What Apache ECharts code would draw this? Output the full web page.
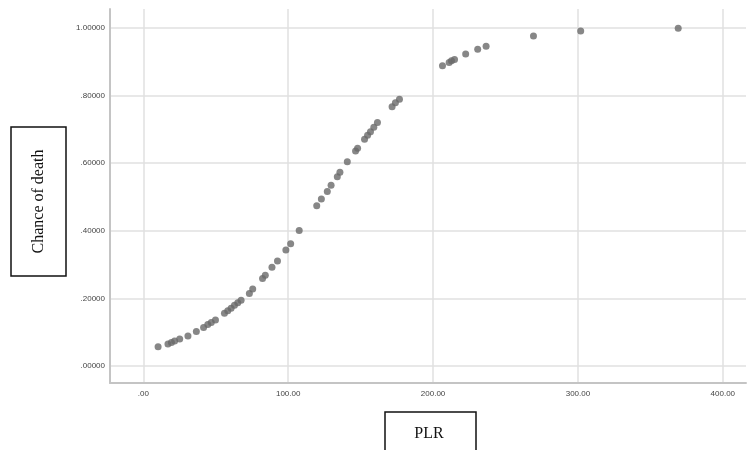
<!DOCTYPE html>
<html>
<head>
<meta charset="utf-8">
<script src="https://cdn.jsdelivr.net/npm/echarts@6/dist/echarts.min.js"></script>
<style>html,body{margin:0;padding:0;background:#fff}#c{width:749px;height:450px}</style>
</head>
<body>
<div id="c"></div>
<script>
var plrValues = [10.2,17.0,19.4,21.6,25.1,30.8,36.6,41.6,44.5,46.9,49.8,56.0,58.3,60.6,62.9,65.2,67.5,73.2,75.5,82.3,84.2,88.8,92.6,98.4,101.7,107.6,119.7,122.9,127.0,129.6,133.9,135.7,140.8,146.5,147.9,152.7,154.8,156.8,159.1,161.6,171.7,174.0,176.8,206.5,211.1,212.7,214.8,222.5,230.8,236.6,269.3,301.9,369.2];
var deathChance = [0.057,0.065,0.070,0.074,0.080,0.089,0.102,0.114,0.123,0.129,0.136,0.156,0.164,0.171,0.180,0.187,0.195,0.215,0.228,0.259,0.269,0.292,0.311,0.343,0.362,0.401,0.474,0.494,0.516,0.535,0.560,0.573,0.604,0.636,0.644,0.671,0.683,0.693,0.706,0.720,0.767,0.779,0.789,0.888,0.898,0.903,0.907,0.923,0.937,0.946,0.976,0.991,0.999];
var xTicks = [0,100,200,300,400];
var yTicks = [0,0.2,0.4,0.6,0.8,1.0];
var xTitle = 'PLR';
var yTitle = 'Chance of death';

function isTick(v, ticks){ for (var i=0;i<ticks.length;i++){ if (Math.abs(v-ticks[i])<1e-6) return true; } return false; }

var points = plrValues.map(function(x,i){ return [x, deathChance[i]]; });

var chart = echarts.init(document.getElementById('c'), null, {renderer:'canvas'});
chart.setOption({
  animation: false,
  backgroundColor: '#fff',
  grid: { left: 110, right: 0, top: 9, bottom: 67, containLabel: false },
  xAxis: {
    type: 'value', min: -23, max: 416, splitNumber: 5,
    axisLine: { show: true, onZero: false, lineStyle: { color: '#c4c4c4', width: 2 } },
    axisTick: { show: false },
    axisLabel: { margin: 7, color: '#444', fontFamily: 'Arial, Liberation Sans', fontSize: 8,
      formatter: function(v){ if (!isTick(v, xTicks)) return ''; var s = v.toFixed(2); return s.replace(/^0\./,'.'); } },
    splitLine: { show: true, showMinLine: false, showMaxLine: false, lineStyle: { color: '#e0e0e0', width: 1.5 } }
  },
  yAxis: {
    type: 'value', min: -0.05, max: 1.056, splitNumber: 5,
    axisLine: { show: true, onZero: false, lineStyle: { color: '#c4c4c4', width: 2 } },
    axisTick: { show: false },
    axisLabel: { margin: 5, color: '#444', fontFamily: 'Arial, Liberation Sans', fontSize: 8,
      formatter: function(v){ if (!isTick(v, yTicks)) return ''; var s = v.toFixed(5); return s.replace(/^0\./,'.'); } },
    splitLine: { show: true, showMinLine: false, showMaxLine: false, lineStyle: { color: '#e0e0e0', width: 1.5 } }
  },
  series: [{
    type: 'scatter', data: points, symbol: 'circle', symbolSize: 7,
    itemStyle: { color: '#696969' }
  }],
  graphic: [
    { type: 'rect', shape: { x: 11, y: 127, width: 55, height: 149 }, style: { fill: '#fff', stroke: '#111', lineWidth: 1.5 } },
    { type: 'text', x: 38.5, y: 201.5, rotation: Math.PI/2,
      style: { text: yTitle, fill: '#111', font: '16px "Liberation Serif", "Times New Roman", serif', align: 'center', verticalAlign: 'middle' } },
    { type: 'rect', shape: { x: 385, y: 412, width: 91, height: 60 }, style: { fill: '#fff', stroke: '#111', lineWidth: 1.5 } },
    { type: 'text', x: 429, y: 434,
      style: { text: xTitle, fill: '#111', font: '16px "Liberation Serif", "Times New Roman", serif', align: 'center', verticalAlign: 'middle' } }
  ]
});
</script>
</body>
</html>
